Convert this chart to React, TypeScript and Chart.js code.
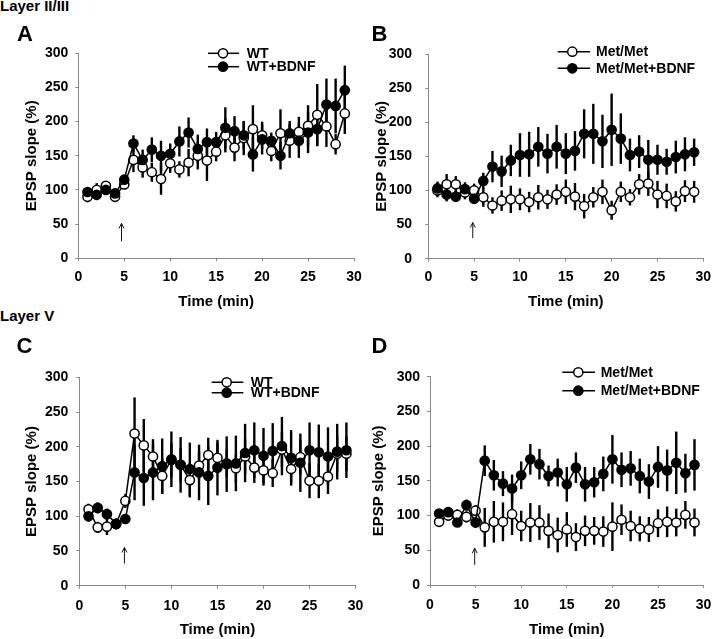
import React, { useEffect, useRef } from "react";
import { Chart, registerables } from "chart.js";

Chart.register(...registerables);
Chart.defaults.font.family = "'Liberation Sans', Arial, sans-serif";
Chart.defaults.font.weight = "bold";
Chart.defaults.color = "#000";

// ---------- data ----------
const TIME = [1, 2, 3, 4, 5, 6, 7, 8, 9, 10, 11, 12, 13, 14, 15, 16, 17, 18, 19, 20, 21, 22, 23, 24, 25, 26, 27, 28, 29];
const X_TICKS = [0, 5, 10, 15, 20, 25, 30];
const Y_TICKS = [0, 50, 100, 150, 200, 250, 300];

// Panel A (Layer II/III, WT)
const A_WT = [90, 100, 106, 90, 108, 144, 133, 126, 116, 139, 130, 140, 150, 143, 156, 180, 162, 176, 189, 180, 157, 183, 172, 185, 194, 210, 193, 167, 212];
const A_WT_ERR = [8, 10, 6, 5, 6, 18, 15, 14, 23, 14, 12, 20, 20, 30, 14, 25, 20, 25, 35, 20, 15, 35, 25, 22, 30, 45, 30, 15, 30];
const A_BDNF = [97, 93, 100, 95, 115, 168, 144, 159, 150, 153, 171, 184, 160, 170, 170, 191, 186, 180, 152, 174, 172, 150, 183, 172, 184, 189, 225, 223, 246];
const A_BDNF_ERR = [7, 8, 6, 6, 6, 12, 15, 18, 22, 15, 22, 22, 21, 20, 15, 30, 22, 20, 25, 22, 12, 20, 18, 25, 30, 25, 38, 40, 36];

// Panel B (Layer II/III, Met/Met)
const B_MET = [100, 109, 109, 97, 100, 90, 78, 85, 87, 87, 83, 90, 87, 94, 98, 91, 77, 90, 98, 71, 98, 90, 109, 110, 94, 92, 84, 99, 98];
const B_MET_ERR = [10, 15, 12, 10, 10, 14, 12, 15, 20, 16, 15, 18, 14, 15, 18, 20, 18, 15, 18, 14, 15, 12, 15, 18, 20, 18, 15, 16, 16];
const B_BDNF = [103, 94, 91, 102, 88, 114, 135, 128, 144, 152, 153, 164, 154, 164, 154, 158, 183, 183, 172, 189, 176, 152, 157, 145, 145, 142, 149, 153, 156];
const B_BDNF_ERR = [10, 10, 8, 10, 8, 12, 23, 23, 23, 32, 33, 29, 29, 32, 30, 29, 36, 44, 39, 53, 37, 24, 24, 29, 22, 19, 24, 25, 20];

// Panel C (Layer V, WT)
const C_WT = [110, 84, 85, 89, 122, 219, 202, 186, 158, 181, 174, 152, 173, 188, 184, 176, 169, 186, 170, 166, 162, 196, 168, 185, 151, 151, 157, 190, 190];
const C_WT_ERR = [8, 8, 12, 8, 10, 52, 38, 25, 25, 25, 25, 25, 20, 25, 22, 20, 20, 25, 22, 22, 20, 25, 20, 25, 25, 25, 25, 25, 25];
const C_BDNF = [100, 112, 103, 89, 96, 163, 155, 163, 172, 182, 174, 168, 163, 158, 170, 175, 176, 191, 195, 187, 194, 201, 184, 177, 195, 192, 186, 193, 195];
const C_BDNF_ERR = [8, 8, 8, 6, 6, 40, 40, 40, 40, 40, 40, 38, 40, 42, 40, 40, 40, 42, 40, 40, 40, 42, 40, 42, 40, 40, 42, 40, 40];

// Panel D (Layer V, Met/Met)
const D_MET = [91, 100, 101, 98, 107, 83, 91, 91, 102, 85, 90, 90, 78, 72, 80, 69, 78, 78, 77, 84, 94, 85, 81, 80, 89, 91, 90, 101, 90];
const D_MET_ERR = [6, 6, 8, 8, 8, 28, 30, 28, 30, 22, 28, 25, 25, 25, 25, 20, 22, 20, 22, 35, 22, 22, 18, 18, 20, 22, 20, 20, 20];
const D_BDNF = [103, 105, 90, 115, 90, 179, 158, 146, 139, 158, 181, 174, 157, 162, 145, 169, 145, 148, 160, 181, 166, 168, 157, 149, 170, 165, 176, 161, 173];
const D_BDNF_ERR = [6, 6, 6, 8, 8, 22, 22, 18, 20, 20, 22, 22, 15, 20, 25, 22, 25, 22, 25, 35, 25, 25, 25, 25, 30, 30, 45, 28, 37];

// BDNF application arrow (x in min, y range in %)
const ARROW_X = [4.7, 4.85, 4.9, 4.9];
const ARROW_Y_FROM = [25, 30, 32, 29];
const ARROW_Y_TO = [51, 53, 55, 53];

const LEGEND_WT = ["WT", "WT+BDNF"];
const LEGEND_MET = ["Met/Met", "Met/Met+BDNF"];

// ---------- layout (page coordinates) ----------
type PanelCfg = {
  letter: string;
  open: number[]; openErr: number[]; filled: number[]; filledErr: number[];
  labels: string[];
  arrow: number;
  left: number; top: number; width: number; height: number;
  area: { l: number; t: number; r: number; b: number };
  yTitleX: number; yLabelRight: number; xLabelY: number; xTitleY: number;
  legend: { rows: number[]; line: number[]; marker: number; text: number };
  letterPos: { x: number; y: number };
};

const PANELS: PanelCfg[] = [
  {
    letter: "A", open: A_WT, openErr: A_WT_ERR, filled: A_BDNF, filledErr: A_BDNF_ERR, labels: LEGEND_WT, arrow: 0,
    left: 0, top: 20, width: 372, height: 296,
    area: { l: 78.3, t: 53.3, r: 354, b: 258.3 },
    yTitleX: 31.7, yLabelRight: 68.3, xLabelY: 277.3, xTitleY: 301.7,
    legend: { rows: [53.3, 66.7], line: [208, 239], marker: 223, text: 246.7 },
    letterPos: { x: 17, y: 23 },
  },
  {
    letter: "B", open: B_MET, openErr: B_MET_ERR, filled: B_BDNF, filledErr: B_BDNF_ERR, labels: LEGEND_MET, arrow: 1,
    left: 360, top: 20, width: 360, height: 296,
    area: { l: 428.3, t: 54, r: 703.3, b: 258.7 },
    yTitleX: 381.7, yLabelRight: 412, xLabelY: 277.3, xTitleY: 301.7,
    legend: { rows: [51.7, 68.3], line: [557.7, 590], marker: 572.3, text: 596 },
    letterPos: { x: 371.5, y: 23 },
  },
  {
    letter: "C", open: C_WT, openErr: C_WT_ERR, filled: C_BDNF, filledErr: C_BDNF_ERR, labels: LEGEND_WT, arrow: 2,
    left: 0, top: 320, width: 372, height: 319,
    area: { l: 79.3, t: 377.3, r: 359.3, b: 585.7 },
    yTitleX: 31.7, yLabelRight: 68.3, xLabelY: 605.7, xTitleY: 630,
    legend: { rows: [382.3, 392.7], line: [211.7, 243.3], marker: 226.7, text: 250.7 },
    letterPos: { x: 16.5, y: 335 },
  },
  {
    letter: "D", open: D_MET, openErr: D_MET_ERR, filled: D_BDNF, filledErr: D_BDNF_ERR, labels: LEGEND_MET, arrow: 3,
    left: 360, top: 320, width: 360, height: 319,
    area: { l: 430, t: 376.7, r: 705, b: 585 },
    yTitleX: 379.2, yLabelRight: 420, xLabelY: 605, xTitleY: 630,
    legend: { rows: [372.3, 390.7], line: [562.3, 595], marker: 578.3, text: 600.7 },
    letterPos: { x: 371.5, y: 335 },
  },
];

const TICK_FONT = 14;
const TITLE_FONT = 15;
const TICK_LEN = 3;
const AXIS_GRAY = "#8a8a8a";

const errorBarPlugin = {
  id: "errbars",
  beforeDatasetsDraw(chart: any, _args: any, opts: any) {
    const { ctx } = chart;
    const x = chart.scales.x;
    const y = chart.scales.y;
    ctx.save();
    ctx.strokeStyle = "#000";
    ctx.lineWidth = 2.4;
    ctx.lineCap = "butt";
    chart.data.datasets.forEach((ds: any, di: number) => {
      const errs: number[] = opts.errors[di];
      ds.data.forEach((p: any, i: number) => {
        const px = x.getPixelForValue(p.x);
        ctx.beginPath();
        ctx.moveTo(px, y.getPixelForValue(p.y - errs[i]));
        ctx.lineTo(px, y.getPixelForValue(p.y + errs[i]));
        ctx.stroke();
      });
    });
    ctx.restore();
  },
};

const legendPlugin = {
  id: "customLegend",
  afterDraw(chart: any, _args: any, opts: any) {
    const { ctx } = chart;
    ctx.save();
    opts.labels.forEach((label: string, i: number) => {
      const yy = opts.rows[i];
      ctx.strokeStyle = "#000";
      ctx.lineWidth = 1.5;
      ctx.beginPath();
      ctx.moveTo(opts.line[0], yy);
      ctx.lineTo(opts.line[1], yy);
      ctx.stroke();
      ctx.beginPath();
      ctx.arc(opts.marker, yy, 4.6, 0, Math.PI * 2);
      ctx.fillStyle = i === 0 ? "#fff" : "#000";
      ctx.fill();
      ctx.stroke();
      ctx.fillStyle = "#000";
      ctx.font = `bold 14px 'Liberation Sans', Arial, sans-serif`;
      ctx.textBaseline = "middle";
      ctx.textAlign = "left";
      ctx.fillText(label, opts.text, yy + 0.5);
    });
    ctx.restore();
  },
};

const arrowPlugin = {
  id: "bdnfArrow",
  afterDatasetsDraw(chart: any, _args: any, opts: any) {
    const { ctx } = chart;
    const px = chart.scales.x.getPixelForValue(opts.x);
    const y0 = chart.scales.y.getPixelForValue(opts.from);
    const y1 = chart.scales.y.getPixelForValue(opts.to);
    ctx.save();
    ctx.strokeStyle = "#111";
    ctx.lineWidth = 1;
    ctx.beginPath();
    ctx.moveTo(px, y0);
    ctx.lineTo(px, y1);
    ctx.moveTo(px - 2.5, y1 + 5);
    ctx.lineTo(px, y1);
    ctx.lineTo(px + 2.5, y1 + 5);
    ctx.stroke();
    ctx.restore();
  },
};

function Panel({ cfg }: { cfg: PanelCfg }) {
  const ref = useRef<HTMLCanvasElement>(null);
  useEffect(() => {
    const c = cfg;
    const tickLH = TICK_FONT * 1.2;
    const titleLH = TITLE_FONT * 1.2;
    const padL = c.yTitleX - c.left - titleLH / 2;
    const yW = c.area.l - c.left - padL;
    const yTickPad = c.area.l - c.yLabelRight - TICK_LEN;
    const padT = c.area.t - c.top;
    const padR = c.left + c.width - c.area.r;
    const axisBottom = c.xTitleY - c.top + titleLH / 2;
    const xH = axisBottom - (c.area.b - c.top);
    const padB = c.height - axisBottom;
    const xTickPad = c.xLabelY - c.area.b - TICK_LEN - tickLH / 2;
    const toLocalX = (v: number) => v - c.left;
    const toLocalY = (v: number) => v - c.top;

    const mk = (vals: number[]) => TIME.map((t, i) => ({ x: t, y: vals[i] }));

    const chart = new Chart(ref.current as HTMLCanvasElement, {
      type: "line",
      data: {
        datasets: [
          {
            label: c.labels[0],
            data: mk(c.open),
            borderColor: "#000",
            borderWidth: 1.5,
            backgroundColor: "#fff",
            pointRadius: 4.6,
            pointBorderWidth: 1.5,
            pointBackgroundColor: "#fff",
            pointBorderColor: "#000",
            tension: 0,
            order: 2,
          },
          {
            label: c.labels[1],
            data: mk(c.filled),
            borderColor: "#000",
            borderWidth: 1.5,
            backgroundColor: "#000",
            pointRadius: 4.6,
            pointBorderWidth: 1.5,
            pointBackgroundColor: "#000",
            pointBorderColor: "#000",
            tension: 0,
            order: 1,
          },
        ],
      },
      options: {
        responsive: false,
        animation: false,
        events: [],
        layout: { padding: { left: padL, top: padT, right: padR, bottom: padB } },
        scales: {
          x: {
            type: "linear",
            min: 0,
            max: 30,
            afterBuildTicks: (s: any) => { s.ticks = X_TICKS.map((v) => ({ value: v })); },
            afterFit: (s: any) => { s.height = xH; },
            grid: { drawOnChartArea: false, drawTicks: true, tickLength: TICK_LEN, color: AXIS_GRAY },
            border: { display: true, color: AXIS_GRAY, width: 1 },
            ticks: { padding: xTickPad, font: { size: TICK_FONT, weight: "bold" }, color: "#000", maxRotation: 0, autoSkip: false },
            title: { display: true, text: "Time (min)", font: { size: TITLE_FONT, weight: "bold" }, color: "#000", padding: 0 },
          },
          y: {
            type: "linear",
            min: 0,
            max: 300,
            afterBuildTicks: (s: any) => { s.ticks = Y_TICKS.map((v) => ({ value: v })); },
            afterFit: (s: any) => { s.width = yW; },
            grid: { drawOnChartArea: false, drawTicks: true, tickLength: TICK_LEN, color: AXIS_GRAY },
            border: { display: true, color: AXIS_GRAY, width: 1 },
            ticks: { padding: yTickPad, font: { size: TICK_FONT, weight: "bold" }, color: "#000", autoSkip: false },
            title: { display: true, text: "EPSP slope (%)", font: { size: TITLE_FONT, weight: "bold" }, color: "#000", padding: 0 },
          },
        },
        plugins: {
          legend: { display: false },
          tooltip: { enabled: false },
          errbars: { errors: [c.openErr, c.filledErr] },
          customLegend: {
            labels: c.labels,
            rows: c.legend.rows.map(toLocalY),
            line: c.legend.line.map(toLocalX),
            marker: toLocalX(c.legend.marker),
            text: toLocalX(c.legend.text),
          },
          bdnfArrow: { x: ARROW_X[c.arrow], from: ARROW_Y_FROM[c.arrow], to: ARROW_Y_TO[c.arrow] },
        } as any,
      },
      plugins: [errorBarPlugin, legendPlugin, arrowPlugin],
    } as any);
    return () => chart.destroy();
  }, [cfg]);

  return (
    <>
      <canvas
        ref={ref}
        width={cfg.width}
        height={cfg.height}
        style={{ position: "absolute", left: cfg.left, top: cfg.top, width: cfg.width, height: cfg.height }}
      />
      <div
        style={{
          position: "absolute",
          left: cfg.letterPos.x,
          top: cfg.letterPos.y,
          fontFamily: "'Liberation Sans', Arial, sans-serif",
          fontWeight: "bold",
          fontSize: 22,
          lineHeight: "22px",
          color: "#000",
        }}
      >
        {cfg.letter}
      </div>
    </>
  );
}

export default function App() {
  const layerStyle: React.CSSProperties = {
    position: "absolute",
    left: 0,
    fontFamily: "'Liberation Sans', Arial, sans-serif",
    fontWeight: "bold",
    fontSize: 15,
    lineHeight: "15px",
    color: "#000",
    whiteSpace: "nowrap",
  };
  return (
    <div style={{ position: "absolute", left: 0, top: 0, width: 720, height: 639, background: "#fff", overflow: "hidden" }}>
      <div style={{ ...layerStyle, top: -2 }}>Layer II/III</div>
      <div style={{ ...layerStyle, top: 308 }}>Layer V</div>
      {PANELS.map((p) => (
        <Panel key={p.letter} cfg={p} />
      ))}
    </div>
  );
}
